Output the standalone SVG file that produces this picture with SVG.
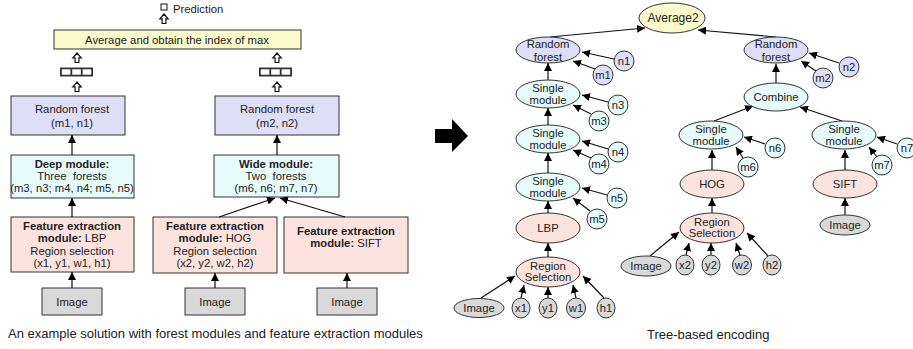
<svg xmlns="http://www.w3.org/2000/svg" width="913" height="349" viewBox="0 0 913 349">
  <style>
    text { font-family: "Liberation Sans", Arial, sans-serif; font-size: 11.3px; fill: #222; text-anchor: middle; }
    .b { font-weight: bold; }
    .l { text-anchor: start; }
    .cap { font-size: 13px; text-anchor: start; }
    .box { stroke: #333; stroke-width: 1; }
    .yel { fill: #fafacd; }
    .lav { fill: #dedef6; }
    .cyn { fill: #e8fbfb; }
    .pnk { fill: #fde3de; }
    .gry { fill: #d9d9d9; }
    .edge { stroke: #111; stroke-width: 1.2; fill: none; marker-end: url(#ah); }
    .hollow { fill: #fff; stroke: #111; stroke-width: 1.2; }
  </style>
  <defs>
    <marker id="ah" viewBox="0 0 10 10" refX="10" refY="5" markerWidth="8" markerHeight="8" markerUnits="userSpaceOnUse" orient="auto">
      <path d="M0,0 L10,5 L0,10 Z" fill="#000"/>
    </marker>
    <path id="up" d="M0,0 L4.2,4.8 L1.9,4.8 L1.9,9.5 L-1.9,9.5 L-1.9,4.8 L-4.2,4.8 Z"/>
    <g id="cells">
      <rect x="0" y="0" width="33" height="9" fill="#333"/>
      <rect x="1.8" y="1.8" width="8.6" height="5.4" fill="#fff"/>
      <rect x="12.2" y="1.8" width="8.6" height="5.4" fill="#fff"/>
      <rect x="22.6" y="1.8" width="8.6" height="5.4" fill="#fff"/>
    </g>
  </defs>

  <!-- ===== Left: module pipeline ===== -->
  <g id="prediction">
    <rect x="161" y="4" width="6" height="6" fill="#fff" stroke="#111" stroke-width="1"/>
    <text class="l" x="173" y="13">Prediction</text>
    <use href="#up" x="164" y="14" class="hollow"/>
  </g>

  <g id="average">
    <rect class="box yel" x="54" y="30" width="247" height="19"/>
    <text x="177" y="44">Average and obtain the index of max</text>
  </g>

  <g id="scores-left">
    <use href="#up" x="77" y="53" class="hollow"/>
    <use href="#cells" x="60" y="67.5"/>
    <use href="#up" x="77" y="82" class="hollow"/>
  </g>
  <g id="scores-right">
    <use href="#up" x="277" y="53" class="hollow"/>
    <use href="#cells" x="259" y="67.5"/>
    <use href="#up" x="277" y="82" class="hollow"/>
  </g>

  <g id="rf1">
    <rect class="box lav" x="11" y="96" width="114" height="39"/>
    <text x="72" y="113">Random forest</text>
    <text x="72" y="127">(m1, n1)</text>
  </g>
  <g id="rf2">
    <rect class="box lav" x="215" y="96" width="124" height="39"/>
    <text x="277" y="113">Random forest</text>
    <text x="277" y="127">(m2, n2)</text>
  </g>

  <g id="deep">
    <rect class="box cyn" x="11" y="155" width="123" height="43"/>
    <text class="b" x="72" y="168">Deep module:</text>
    <text x="72" y="180" xml:space="preserve">Three  forests</text>
    <text x="72" y="192">(m3, n3; m4, n4; m5, n5)</text>
  </g>
  <g id="wide">
    <rect class="box cyn" x="214" y="155" width="125" height="42"/>
    <text class="b" x="276" y="168">Wide module:</text>
    <text x="276" y="180" xml:space="preserve">Two  forests</text>
    <text x="276" y="192">(m6, n6; m7, n7)</text>
  </g>

  <g id="fe-lbp">
    <rect class="box pnk" x="11" y="217" width="123" height="55"/>
    <text class="b" x="72" y="230">Feature extraction</text>
    <text x="72" y="242"><tspan class="b">module:</tspan> LBP</text>
    <text x="72" y="254.5">Region selection</text>
    <text x="72" y="267">(x1, y1, w1, h1)</text>
  </g>
  <g id="fe-hog">
    <rect class="box pnk" x="153" y="217" width="124" height="56"/>
    <text class="b" x="215" y="230">Feature extraction</text>
    <text x="215" y="242"><tspan class="b">module:</tspan> HOG</text>
    <text x="215" y="254.5">Region selection</text>
    <text x="215" y="267">(x2, y2, w2, h2)</text>
  </g>
  <g id="fe-sift">
    <rect class="box pnk" x="284" y="217" width="124" height="56"/>
    <text class="b" x="346" y="235">Feature extraction</text>
    <text x="346" y="247"><tspan class="b">module:</tspan> SIFT</text>
  </g>

  <g id="img1">
    <rect class="box gry" x="42" y="288" width="60" height="27"/>
    <text x="72" y="306">Image</text>
  </g>
  <g id="img2">
    <rect class="box gry" x="185" y="288" width="60" height="27"/>
    <text x="215" y="306">Image</text>
  </g>
  <g id="img3">
    <rect class="box gry" x="317" y="288" width="60" height="27"/>
    <text x="347" y="306">Image</text>
  </g>

  <g id="left-connectors">
    <path class="edge" d="M72,155 L72,135"/>
    <path class="edge" d="M277,155 L277,135"/>
    <path class="edge" d="M72,217 L72,198"/>
    <path class="edge" d="M219,217 L275,198"/>
    <path class="edge" d="M345,217 L280,198"/>
    <path class="edge" d="M72,288 L72,272"/>
    <path class="edge" d="M215,288 L215,273"/>
    <path class="edge" d="M347,288 L347,273"/>
  </g>

  <text class="cap" x="8" y="338">An example solution with forest modules and feature extraction modules</text>

  <!-- transition arrow -->
  <path id="big-arrow" d="M435,129 L452,129 L452,119 L468,136 L452,152 L452,143 L435,143 Z" fill="#000"/>

  <!-- ===== Right: tree-based encoding ===== -->
  <g id="tree-connectors">
    <path class="edge" d="M550,37 L645,28"/>
    <path class="edge" d="M776,37 L698,30"/>
    <path class="edge" d="M614,59 L582,52"/>
    <path class="edge" d="M595,69 L573,61"/>
    <path class="edge" d="M548,80 L548,63"/>
    <path class="edge" d="M608,102 L582,95"/>
    <path class="edge" d="M591,114 L573,105"/>
    <path class="edge" d="M548,125 L548,108"/>
    <path class="edge" d="M608,149 L582,141"/>
    <path class="edge" d="M591,158 L573,150"/>
    <path class="edge" d="M548,173 L548,153"/>
    <path class="edge" d="M607,195 L582,188"/>
    <path class="edge" d="M590,211 L573,198"/>
    <path class="edge" d="M548,213 L548,201"/>
    <path class="edge" d="M548,257 L548,243"/>
    <path class="edge" d="M481,298 L515,276"/>
    <path class="edge" d="M521,298 L524,285"/>
    <path class="edge" d="M548,298 L548,287"/>
    <path class="edge" d="M576,298 L573,285"/>
    <path class="edge" d="M604,298 L583,276"/>
    <path class="edge" d="M839,63 L809,53"/>
    <path class="edge" d="M816,71 L801,61"/>
    <path class="edge" d="M776,83 L776,64"/>
    <path class="edge" d="M714,121 L753,106"/>
    <path class="edge" d="M842,121 L800,107"/>
    <path class="edge" d="M765,144 L744,137"/>
    <path class="edge" d="M743,158 L736,147"/>
    <path class="edge" d="M897,144 L877,137"/>
    <path class="edge" d="M877,157 L869,147"/>
    <path class="edge" d="M712,170 L712,150"/>
    <path class="edge" d="M712,213 L712,198"/>
    <path class="edge" d="M650,256 L679,232"/>
    <path class="edge" d="M686,255 L689,243"/>
    <path class="edge" d="M711,255 L711,243"/>
    <path class="edge" d="M740,255 L736,243"/>
    <path class="edge" d="M768,256 L747,233"/>
    <path class="edge" d="M845,170 L845,150"/>
    <path class="edge" d="M845,215 L845,198"/>
  </g>

  <g id="t-average2"><ellipse class="box yel" cx="672" cy="18" rx="33" ry="15"/><text x="673" y="22" style="font-size:12px">Average2</text></g>

  <g id="t-rf-left"><ellipse class="box lav" cx="548" cy="50" rx="32" ry="13"/><text x="548" y="48">Random</text><text x="548" y="61">forest</text></g>
  <g id="t-n1"><circle class="box lav" cx="624" cy="61" r="10"/><text x="624" y="65">n1</text></g>
  <g id="t-m1"><circle class="box lav" cx="603" cy="75" r="10"/><text x="603" y="79">m1</text></g>

  <g id="t-sm1"><ellipse class="box cyn" cx="548" cy="94" rx="32" ry="14"/><text x="548" y="92">Single</text><text x="548" y="104">module</text></g>
  <g id="t-n3"><circle class="box cyn" cx="618" cy="105" r="10"/><text x="618" y="109">n3</text></g>
  <g id="t-m3"><circle class="box cyn" cx="599" cy="121" r="10"/><text x="599" y="125">m3</text></g>

  <g id="t-sm2"><ellipse class="box cyn" cx="548" cy="139" rx="32" ry="14"/><text x="548" y="137">Single</text><text x="548" y="149">module</text></g>
  <g id="t-n4"><circle class="box cyn" cx="618" cy="152" r="10"/><text x="618" y="156">n4</text></g>
  <g id="t-m4"><circle class="box cyn" cx="599" cy="164" r="10"/><text x="599" y="168">m4</text></g>

  <g id="t-sm3"><ellipse class="box cyn" cx="548" cy="187" rx="32" ry="14"/><text x="548" y="185">Single</text><text x="548" y="197">module</text></g>
  <g id="t-n5"><circle class="box cyn" cx="617" cy="198" r="10"/><text x="617" y="202">n5</text></g>
  <g id="t-m5"><circle class="box cyn" cx="597" cy="219" r="10"/><text x="597" y="223">m5</text></g>

  <g id="t-lbp"><ellipse class="box pnk" cx="548" cy="228" rx="32" ry="15"/><text x="548" y="232">LBP</text></g>
  <g id="t-rs-left"><ellipse class="box pnk" cx="548" cy="272" rx="32" ry="15"/><text x="548" y="270">Region</text><text x="548" y="281">Selection</text></g>

  <g id="t-image-left"><ellipse class="box gry" cx="479" cy="308" rx="25" ry="9.5"/><text x="479" y="312">Image</text></g>
  <g id="t-x1"><ellipse class="box gry" cx="521" cy="308" rx="9" ry="10"/><text x="521" y="312">x1</text></g>
  <g id="t-y1"><ellipse class="box gry" cx="548" cy="308" rx="9" ry="10"/><text x="548" y="312">y1</text></g>
  <g id="t-w1"><ellipse class="box gry" cx="576" cy="308" rx="9.5" ry="10"/><text x="576" y="312">w1</text></g>
  <g id="t-h1"><ellipse class="box gry" cx="606" cy="308" rx="9" ry="10"/><text x="606" y="312">h1</text></g>

  <g id="t-rf-right"><ellipse class="box lav" cx="776" cy="50" rx="32" ry="13"/><text x="776" y="48">Random</text><text x="776" y="61">forest</text></g>
  <g id="t-n2"><circle class="box lav" cx="849" cy="67" r="10"/><text x="849" y="71">n2</text></g>
  <g id="t-m2"><circle class="box lav" cx="823" cy="78" r="10"/><text x="823" y="82">m2</text></g>

  <g id="t-combine"><ellipse class="box cyn" cx="776" cy="97" rx="32" ry="14"/><text x="776" y="101">Combine</text></g>

  <g id="t-sm-hog"><ellipse class="box cyn" cx="711" cy="135" rx="32" ry="14"/><text x="711" y="133">Single</text><text x="711" y="145">module</text></g>
  <g id="t-n6"><circle class="box cyn" cx="775" cy="148" r="10"/><text x="775" y="152">n6</text></g>
  <g id="t-m6"><circle class="box cyn" cx="748" cy="167" r="10"/><text x="748" y="171">m6</text></g>

  <g id="t-sm-sift"><ellipse class="box cyn" cx="844" cy="135" rx="32" ry="14"/><text x="844" y="133">Single</text><text x="844" y="145">module</text></g>
  <g id="t-n7"><circle class="box cyn" cx="907" cy="148" r="10"/><text x="907" y="152">n7</text></g>
  <g id="t-m7"><circle class="box cyn" cx="882" cy="165" r="10"/><text x="882" y="169">m7</text></g>

  <g id="t-hog"><ellipse class="box pnk" cx="712" cy="184" rx="32" ry="14"/><text x="712" y="188">HOG</text></g>
  <g id="t-sift"><ellipse class="box pnk" cx="845" cy="184" rx="32" ry="14"/><text x="845" y="188">SIFT</text></g>

  <g id="t-rs-right"><ellipse class="box pnk" cx="712" cy="228" rx="32" ry="15"/><text x="712" y="226">Region</text><text x="712" y="237">Selection</text></g>
  <g id="t-image-right"><ellipse class="box gry" cx="845" cy="225" rx="25" ry="10"/><text x="845" y="229">Image</text></g>

  <g id="t-image-mid"><ellipse class="box gry" cx="646" cy="266" rx="25" ry="10"/><text x="646" y="270">Image</text></g>
  <g id="t-x2"><ellipse class="box gry" cx="685" cy="265" rx="9" ry="10"/><text x="685" y="269">x2</text></g>
  <g id="t-y2"><ellipse class="box gry" cx="711" cy="265" rx="9" ry="10"/><text x="711" y="269">y2</text></g>
  <g id="t-w2"><ellipse class="box gry" cx="742" cy="265" rx="9.5" ry="10"/><text x="742" y="269">w2</text></g>
  <g id="t-h2"><ellipse class="box gry" cx="772" cy="265" rx="9" ry="10"/><text x="772" y="269">h2</text></g>

  <text class="cap" x="647" y="339">Tree-based encoding</text>
</svg>
